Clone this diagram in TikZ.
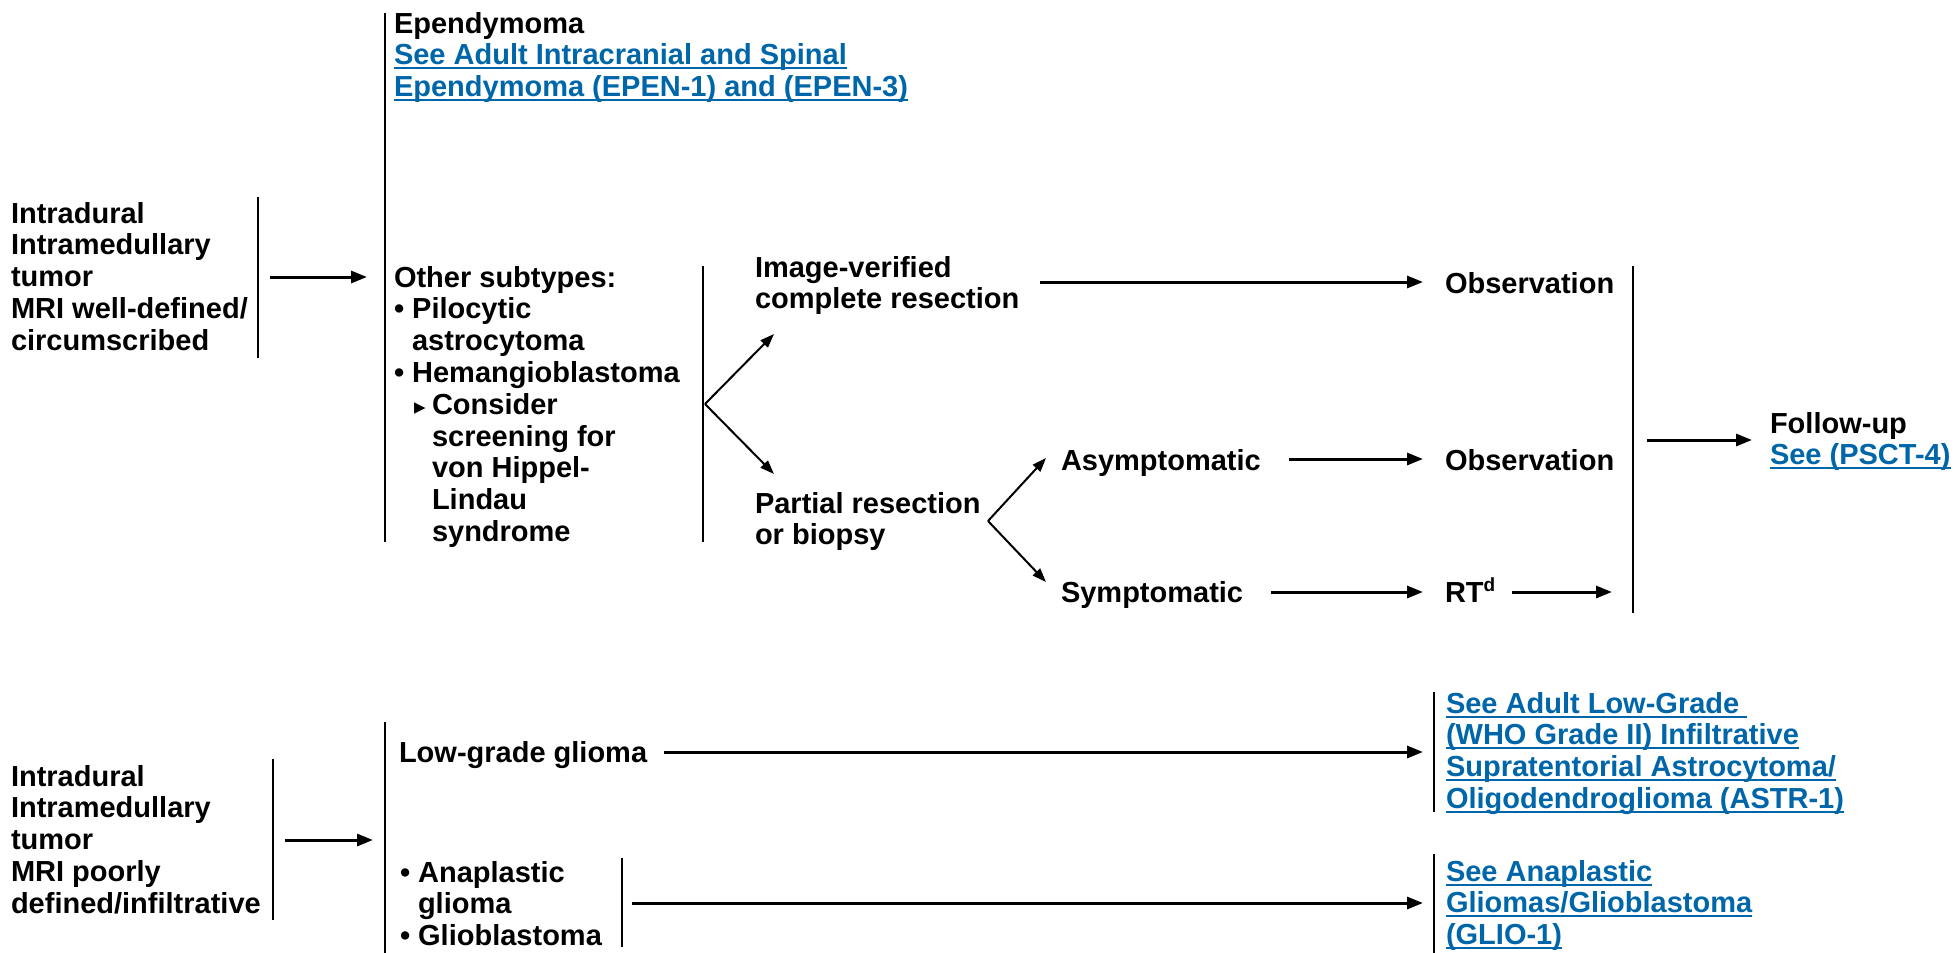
\documentclass[tikz,border=0pt]{standalone}
\usepackage{fontspec}
\setmainfont{Liberation Sans}
\newfontfamily\dejavu{DejaVu Sans}
\usetikzlibrary{arrows.meta}
\definecolor{linkblue}{RGB}{0,102,170}
\newcommand\lk[1]{{\color{linkblue}\setbox0\hbox{#1}\rlap{\rule[-4.5pt]{\wd0}{2pt}}\box0}}
\newcommand\tri{{\fontsize{23}{23}\selectfont\dejavu ▸}}
\newcommand\supd{\raisebox{11pt}{\fontsize{19}{19}\selectfont d}}
\begin{document}
\begin{tikzpicture}[x=1pt,y=-1pt,
  txt/.style={anchor=north west, inner sep=0pt, outer sep=0pt, align=left, font=\fontsize{29}{31.8}\selectfont\bfseries},
  one/.style={anchor=base west, inner sep=0pt, outer sep=0pt, font=\fontsize{29}{31.8}\selectfont\bfseries},
  bar/.style={line width=2pt},
  arr/.style={line width=3pt, -{Triangle[length=16pt,width=12pt]}},
  darr/.style={line width=2pt, -{Triangle[length=14pt,width=10pt]}}]
\useasboundingbox (0,0) rectangle (1955,953);

% ---------- upper part ----------
\node[txt] (epen) at (394,12) {Ependymoma\\\lk{See Adult Intracranial and Spinal}\\\lk{Ependymoma (EPEN-1) and (EPEN-3)}};
\node[txt] (left1) at (11,202) {Intradural\\Intramedullary\\tumor\\MRI well-defined/\\circumscribed};
\node[txt] (other) at (394,266) {Other subtypes:\\• Pilocytic\\\hspace*{18pt}astrocytoma\\• Hemangioblastoma\\\hspace*{20pt}\makebox[18pt][l]{\tri}Consider\\\hspace*{38pt}screening for\\\hspace*{38pt}von Hippel-\\\hspace*{38pt}Lindau\\\hspace*{38pt}syndrome};
\node[txt] (iv) at (755,256) {Image-verified\\complete resection};
\node[txt] (pr) at (755,492) {Partial resection\\or biopsy};
\node[one] (obs1) at (1445,293) {Observation};
\node[one] (asym) at (1061,470) {Asymptomatic};
\node[one] (obs2) at (1445,470) {Observation};
\node[one] (sym) at (1061,602) {Symptomatic};
\node[one] (rt) at (1445,602) {RT\supd};
\node[txt] (fu) at (1770,412) {Follow-up\\\lk{See (PSCT-4)}};

% brackets
\draw[bar] (385,13) -- (385,542);
\draw[bar] (258,197) -- (258,358);
\draw[bar] (703,266) -- (703,542);
\draw[bar] (1633,266) -- (1633,613);

% connectors
\coordinate (s1) at (270,277);
\draw[arr] (s1) -- ([xshift=-27pt]s1 -| other.west);
\coordinate (v1) at (705,404);
\coordinate (t1) at (774,334);
\coordinate (t2) at (774,474);
\draw[darr] (v1) -- (t1);
\draw[darr] (v1) -- (t2);
\coordinate (s3) at (1040,282);
\draw[arr] (s3) -- ([xshift=-22pt]s3 -| obs1.west);
\coordinate (v2) at (988,521);
\coordinate (t3) at (1046,458);
\coordinate (t4) at (1046,582);
\draw[darr] (v2) -- (t3);
\draw[darr] (v2) -- (t4);
\coordinate (s5) at (1289,459);
\draw[arr] (s5) -- ([xshift=-22pt]s5 -| obs2.west);
\coordinate (s6) at (1271,592);
\draw[arr] (s6) -- ([xshift=-22pt]s6 -| rt.west);
\coordinate (s7) at (1512,592);
\coordinate (e7) at (1612,592);
\draw[arr] (s7) -- (e7);
\coordinate (s8) at (1647,440);
\draw[arr] (s8) -- ([xshift=-18pt]s8 -| fu.west);

% ---------- lower part ----------
\node[txt] (left2) at (11,765) {Intradural\\Intramedullary\\tumor\\MRI poorly\\defined/infiltrative};
\node[one] (lgg) at (399,762) {Low-grade glioma};
\node[txt] (ana) at (400,861) {• Anaplastic\\\hspace*{18pt}glioma\\• Glioblastoma};
\node[txt] (astr) at (1446,692) {\lk{See Adult Low-Grade\ }\\\lk{(WHO Grade II) Infiltrative}\\\lk{Supratentorial Astrocytoma/}\\\lk{Oligodendroglioma (ASTR-1)}};
\node[txt] (glio) at (1446,860) {\lk{See Anaplastic}\\\lk{Gliomas/Glioblastoma}\\\lk{(GLIO-1)}};

\draw[bar] (385,722) -- (385,953);
\draw[bar] (273,759) -- (273,920);
\draw[bar] (622,858) -- (622,947);
\draw[bar] (1434,692) -- (1434,812);
\draw[bar] (1434,854) -- (1434,953);

\coordinate (s9) at (285,840);
\draw[arr] (s9) -- ([xshift=-27pt]s9 -| ana.west);
\coordinate (s10) at (664,752);
\draw[arr] (s10) -- ([xshift=-23pt]s10 -| astr.west);
\coordinate (s11) at (632,903);
\draw[arr] (s11) -- ([xshift=-23pt]s11 -| glio.west);
\end{tikzpicture}
\end{document}
